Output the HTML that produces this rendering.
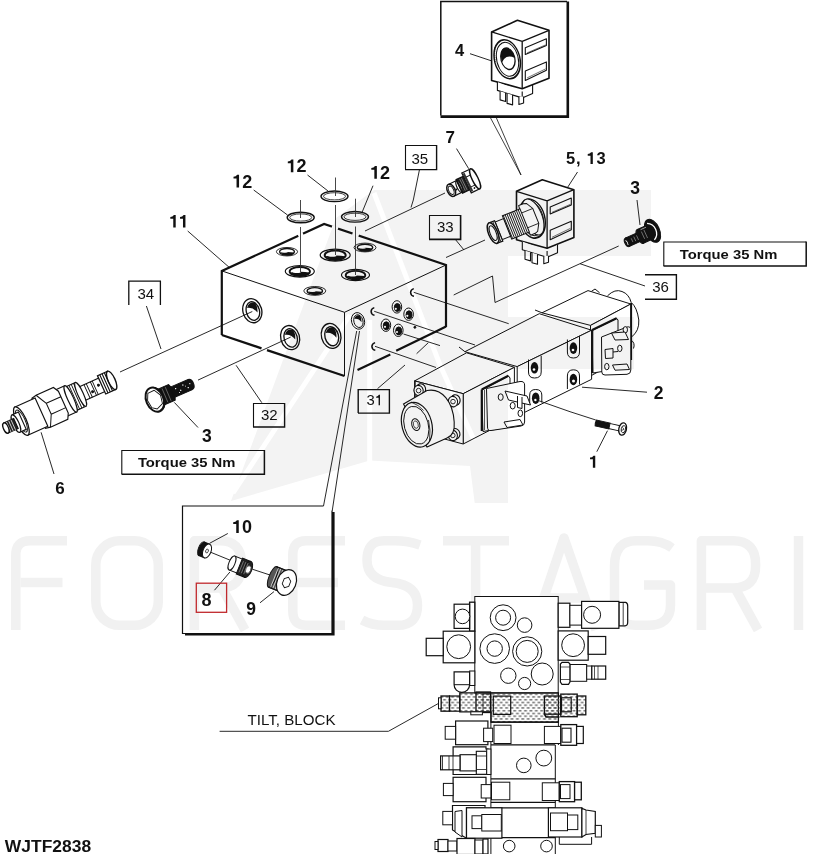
<!DOCTYPE html>
<html><head><meta charset="utf-8">
<style>
html,body{margin:0;padding:0;background:#fff;width:821px;height:854px;overflow:hidden}
svg{display:block}
.b{font-family:"Liberation Sans",sans-serif;font-weight:bold;fill:#111}
.r{font-family:"Liberation Sans",sans-serif;fill:#111}
</style></head><body>
<svg width="821" height="854" viewBox="0 0 821 854">
<g id="wm" fill="none" stroke="#f1f1f1" stroke-width="9.5" stroke-linejoin="round">
<path d="M15.8 630V555Q15.8 540.8 30 540.8H67M20.8 582.5H62.5"/>
<rect x="95.8" y="540.8" width="62.5" height="84.5" rx="24"/>
<path d="M194.4 630V540.8H220Q241.6 540.8 241.6 564V566Q241.6 588 220 588H194.4M222 588L245 630"/>
<path d="M345 540.8H306Q292.8 540.8 292.8 555V611Q292.8 625.3 306 625.3H345M292.8 582.5H338"/>
<path d="M420 545Q408 540.8 395 540.8H384Q367 540.8 367 560Q367 580 392 582.5Q417.5 585 417.5 605Q417.5 625.3 398 625.3H384Q372 625.3 362 620"/>
<path d="M443 540.8H509M475.6 540.8V630"/>
<path d="M533 630L564 538L596 630M545 598H583"/>
<path d="M672 548Q662 540.8 648 540.8H636Q614.5 540.8 614.5 566V600Q614.5 625.3 636 625.3H648Q670.5 625.3 670.5 605V585H644"/>
<path d="M701.4 630V540.8H733Q755.6 540.8 755.6 564V566Q755.6 588 733 588H701.4M735 588L758 630"/>
<path d="M798.5 536V630"/>
</g>



<defs>
<g id="th">
<ellipse cx="0" cy="0" rx="1" ry="0.4" fill="#fff" stroke="#111" stroke-width="0.08"/>
<ellipse cx="0" cy="0.01" rx="0.7" ry="0.31" fill="#fff" stroke="#111" stroke-width="0.13"/>
<path d="M-0.66 0.08Q-0.3 0.38 0.2 0.35Q0.62 0.3 0.66 0.08Q0.1 -0.02 -0.66 0.08Z" fill="#111" stroke="none"/>
<ellipse cx="-0.2" cy="0.04" rx="0.28" ry="0.07" fill="#fff" stroke="none"/>
</g>
<g id="sh"><!-- side hole unit -->
<ellipse cx="0" cy="0" rx="1" ry="1.3" transform="rotate(-15)" fill="#fff" stroke="#111" stroke-width="0.14"/>
<ellipse cx="0.05" cy="0.05" rx="0.7" ry="1.0" transform="rotate(-15)" fill="#fff" stroke="#111" stroke-width="0.14"/>
<path d="M-0.55 -0.3 Q-0.4 -0.95 0.25 -0.85 Q0.6 -0.5 0.55 0.2 Q0.1 -0.4 -0.55 -0.3Z" fill="#111" stroke="none"/>
</g>

<g id="coil" fill="none" stroke="#111" stroke-linejoin="round">
<path d="M0 0L25.8 -11.6L57.4 -1.6L57.4 46.3L30.6 56.9L0 48.5Z" fill="#fff" stroke-width="1.6"/>
<path d="M0 0L30.6 9.5L57.4 -1.6M30.6 9.5V56.9" stroke-width="1.3"/>
<path d="M33.7 15.8L54.8 6.8V13.7L33.7 22.6Z" stroke-width="1.1"/>
<path d="M33.7 39L54.8 30V38.4L33.7 48.5Z" stroke-width="1.1"/>
<path d="M35.5 21L54 13M35.5 46L54 37" stroke-width="0.6"/>
<g transform="matrix(1,0.31,0,1,0,0)">
<ellipse cx="15.6" cy="22.5" rx="13.2" ry="19" stroke-width="1.5"/>
<ellipse cx="15.9" cy="22.5" rx="11.2" ry="16.6" stroke-width="1"/>
<ellipse cx="16.3" cy="21.8" rx="7.2" ry="10.5" stroke-width="1.3"/>
<path d="M9.3 20Q9.5 11.5 16.5 11.5Q22.5 12 23 19Q19 18 15 20.5Q11.5 23.5 10.5 27Q9.2 24 9.3 20Z" fill="#111" stroke="none"/>
<path d="M3.5 14Q2.6 22 3.8 30" stroke-width="0.7" stroke-dasharray="1 1"/>
</g>
<path d="M5.8 50.2V58.5L30.6 66V59.6M30.6 66L41 61.5V53" fill="#fff" stroke-width="1.1"/>
<path d="M8.5 59.4V68L14 69.6V61M15.5 61.5V71.5L21 73V63M27.3 65V72.5L32 71V64.5" fill="#fff" stroke-width="1.1"/>
</g>

<pattern id="hatch" patternUnits="userSpaceOnUse" width="5.4" height="5.5" x="0" y="692.5">
<rect x="0.3" y="1.1" width="2.8" height="1.25" fill="#555"/>
<rect x="3" y="3.85" width="2.8" height="1.25" fill="#555"/>
<rect x="-2.4" y="3.85" width="2.8" height="1.25" fill="#555"/>
</pattern>
</defs>
<!-- main block -->
<g id="block" fill="none" stroke="#111">
<path d="M221.8 270.9L324.1 223.9L446 265L344.5 312.3Z" fill="#fff" stroke="none"/>
<path d="M221.8 270.9L344.5 312.3L344.5 376L221.8 335Z" fill="#fff" stroke="none"/>
<path d="M344.5 312.3L446 265L446 327.5L344.5 376Z" fill="#fff" stroke="none"/>
<path d="M221.8 335L221.8 270.9L324.1 223.9L446 265L446 327" stroke-width="2.2"/>
<path d="M221.8 335L261.5 348.3M267 350.1L344.5 376" stroke-width="2.3"/>
<path d="M357.5 370L390.3 354.4M396.2 350.7L438.5 330.3L446 326.6" stroke-width="2.2"/>
<path d="M221.8 270.9L344.5 312.3L446 265M344.5 312.3V376" stroke-width="1"/>
<use href="#th" transform="translate(287,251.7) scale(10.6)"/>
<use href="#th" transform="translate(335.2,255.1) scale(15)"/>
<use href="#th" transform="translate(299.8,271.3) scale(14.5)"/>
<use href="#th" transform="translate(314.8,290.9) scale(11)"/>
<use href="#th" transform="translate(355.5,275) scale(14)"/>
<use href="#th" transform="translate(365,247.5) scale(11)"/>
<use href="#sh" transform="translate(252.3,310.7) scale(9.4)"/>
<use href="#sh" transform="translate(290.1,337.6) scale(9.4)"/>
<use href="#sh" transform="translate(331.1,335.9) scale(9.7)"/>
<use href="#sh" transform="translate(358,320.9) scale(6.5)"/>
</g>


<!-- leader & assembly lines -->
<g fill="none" stroke="#111" stroke-width="0.9">
<path d="M470 53.7L491 60.7"/>
<path d="M489.5 116L521 175M496 117L521 175" stroke-width="0.8"/>
<path d="M456.5 148.6L468.7 168.7"/>
<path d="M419.4 170L413.3 200L411 207.5"/>
<path d="M445 193L365 231"/>
<path d="M577.5 172L567.5 187.5"/>
<path d="M637 200L640 225"/>
<path d="M455 239L464 250"/>
<path d="M446 257.5L485 240"/>
<path d="M618.7 246L495 302.5L492.5 276L453.7 295"/>
<path d="M645 286L580 263.7"/>
<path d="M253.7 190L287.5 215"/>
<path d="M307.5 175L328 191"/>
<path d="M373 185.7L362 212.5"/>
<path d="M187.7 231L229.6 267.7"/>
<path d="M146.4 306L161 349"/>
<path d="M120 372L252.3 311.5"/>
<path d="M198 380.1L290.7 337.1"/>
<path d="M174.3 402.4L198 427.5"/>
<path d="M41.1 432.3L54 474"/>
<path d="M236.1 365.3L261.8 402.7"/>
<path d="M356.7 331L323.5 506M359.5 331L332.2 511"/>
<path d="M582 387.2L647 392.2"/>
<path d="M607.5 430.7L596.8 451.7"/>
<path d="M227.8 533.5L209.6 543.3"/>
<path d="M229.9 572L214.5 590.2"/>
<path d="M274 591.6L260 602.8"/>
<path d="M219.6 731.3H388.4L438 703.7"/>
<path d="M405 365L377.5 388.7"/>
</g>
<!-- O-rings -->
<g fill="none" stroke="#111">
<ellipse cx="300.7" cy="217.5" rx="13.5" ry="5.3" stroke-width="1.4"/>
<ellipse cx="300.7" cy="217.5" rx="11" ry="3.6" stroke-width="0.8"/>
<ellipse cx="334.5" cy="196.3" rx="13.5" ry="5.3" stroke-width="1.4"/>
<ellipse cx="334.5" cy="196.3" rx="11" ry="3.6" stroke-width="0.8"/>
<ellipse cx="355" cy="216.8" rx="13.5" ry="5.3" stroke-width="1.4"/>
<ellipse cx="355" cy="216.8" rx="11" ry="3.6" stroke-width="0.8"/>
<path d="M298.3 235.8L303 233.6M332 226.6L338 228.6M352.5 233.5L358.7 235.6" stroke="#fff" stroke-width="3.6"/>
<path d="M300.5 200V218M300.5 227V272.5M335.5 177.5V196M335.5 205V255M355.5 198.7V217M355.5 226.5V275" stroke-width="0.9" stroke="#333"/>
</g>
<!-- pins on right face -->
<g fill="none" stroke="#111" stroke-width="0.9">
<path d="M413.7 292.3L508.7 323.7"/>
<path d="M374.2 311.3L475 345"/>
<path d="M375 346.3L436 367.5"/>
<path d="M403.5 334L440 345.6"/>
<path d="M416.6 353.7L428.3 342.7"/>
<path d="M413.8 288.6Q410.6 289.5 410.6 292.5Q410.8 295.8 414 296.3M374.3 307.6Q371.1 308.5 371.1 311.5Q371.3 314.8 374.5 315.3M375.1 342.6Q371.9 343.5 371.9 346.5Q372.1 349.8 375.3 350.3" stroke-width="1.5"/>
</g>
<g fill="#fff" stroke="#111" stroke-width="1">
<ellipse cx="396.9" cy="306.9" rx="4.8" ry="6.2"/>
<ellipse cx="397.3" cy="307.5" rx="3" ry="4" fill="#111"/>
<ellipse cx="408.6" cy="314.2" rx="4.8" ry="6.2"/>
<ellipse cx="409" cy="314.8" rx="3" ry="4" fill="#111"/>
<ellipse cx="385.9" cy="325.2" rx="4.8" ry="6.2"/>
<ellipse cx="386.3" cy="325.8" rx="3" ry="4" fill="#111"/>
<ellipse cx="398.3" cy="330.3" rx="4.8" ry="6.2"/>
<ellipse cx="398.7" cy="330.9" rx="3" ry="4" fill="#111"/>
<circle cx="414.9" cy="327.3" r="1" fill="#111"/>
<g fill="#fff" stroke="none"><circle cx="395.8" cy="308.8" r="1.1"/><circle cx="407.3" cy="315.8" r="1.1"/><circle cx="385" cy="326.8" r="1.1"/><circle cx="397" cy="332" r="1.1"/></g>
</g>

<use href="#coil" transform="translate(491.6,31.9)"/>

<!-- solenoid 5,13 -->
<use href="#coil" transform="translate(516.5,191.3)"/>
<g transform="translate(533,217) rotate(-22)" fill="#fff" stroke="#111" stroke-width="1">
<ellipse cx="0" cy="0" rx="9" ry="19"/>
<path d="M-1 -15L-4 -16H-9L-10 -8V8L-9 16H-4L-1 15L3 8V-8Z"/>
<path d="M-10 -8H3M-10 8H3" stroke-width="0.8"/>
<path d="M-9 -12.5H-28V12.5H-9Z"/>
<path d="M-11 -12.5V12.5M-13 -12.5V12.5M-15 -12.5V12.5M-17 -12.5V12.5M-19 -12.5V12.5M-21 -12.5V12.5M-23 -12.5V12.5M-25 -12.5V12.5M-27 -12.5V12.5" stroke-width="0.85"/>
<path d="M-28 -9.5H-37V9.5H-28Z"/>
<path d="M-37 -11H-43V11H-37Z" stroke-width="1.2"/>
<path d="M-39 -11V11M-41 -11V11" stroke-width="0.8"/>
<ellipse cx="-43" cy="0" rx="4.6" ry="11" stroke-width="1.5"/>
<ellipse cx="-43" cy="0" rx="3" ry="7.8" stroke-width="1"/>
</g>


<!-- part 7 -->
<g transform="translate(451.2,190.3) rotate(-25.6)" fill="#fff" stroke="#111" stroke-width="1.2">
<path d="M0 -6.5H9V6.5H0Z"/>
<path d="M9 -7.5H17V7.5H9Z" fill="#222"/>
<path d="M17 -11H26.5V11H17Z"/>
<path d="M17 -5.5H26.5M17 5.5H26.5" stroke-width="0.9"/>
<path d="M18.5 -10V10" stroke-width="2.2" stroke="#333"/>
<path d="M10.5 -6V6M12.5 -6.5V6.5M14.5 -6.5V6.5" stroke="#bbb" stroke-width="0.5"/>
<ellipse cx="26.5" cy="0" rx="3" ry="11" stroke-width="1.4"/>
<ellipse cx="9" cy="0" rx="2.5" ry="6.5" fill="none"/>
<ellipse cx="0" cy="0" rx="3.8" ry="6.5" stroke-width="1.5"/>
<ellipse cx="0" cy="0" rx="2.4" ry="4.5" stroke-width="0.9"/>
<circle cx="5" cy="1.5" r="1" fill="#111" stroke="none"/>
<circle cx="22" cy="8" r="0.9" fill="#111" stroke="none"/>
</g>
<!-- part 3 top right -->
<g transform="translate(627.5,242.2) rotate(-24.4)" stroke="#111" fill="#111">
<path d="M0 -4.6H16V4.6H0Z"/>
<ellipse cx="0" cy="0" rx="2.8" ry="4.6"/>
<path d="M14 -7.5H25V7.5H14Z"/>
<ellipse cx="14" cy="0" rx="3" ry="7.5"/>
<ellipse cx="27.5" cy="0" rx="7" ry="12.2" stroke-width="1"/>
<path d="M25.5 -9Q31 -6 31 0Q31 6 25.5 9" fill="none" stroke="#fff" stroke-width="1.3"/>
<path d="M-1 -2.5Q0.5 0 -0.6 2.8" fill="none" stroke="#fff" stroke-width="0.9"/>
<path d="M5 -2V2M8 -2.5V2.5M11 -2.5V2.5M17 -4V4M20 -4.5V4.5" fill="none" stroke="#aaa" stroke-width="0.6"/>
<path d="M17 -6L23 -6" fill="none" stroke="#bbb" stroke-width="0.8"/>
</g>



<!-- valve part 2 -->
<g id="valve" fill="#fff" stroke="#111" stroke-width="1" stroke-linejoin="round">
<!-- right cap arc -->
<path d="M607.5 295.8Q615 288.5 622 291.5Q629 294 631.2 302.5Q637 307 638.8 320Q639.5 331 631.5 337"/>
<path d="M631 340Q635.5 343 633.5 348.5" fill="none"/>
<path d="M591.5 291.3L595 289L599.6 292.8" fill="none"/>

<!-- right solenoid -->
<path d="M542 312.8L588 290.6L630.8 304L590.5 325.4Z"/>
<path d="M590.5 325.4L630.8 304V354L590.5 376Z"/>
<path d="M631.2 303V360" fill="none" stroke-width="1.8"/>
<!-- center block -->
<path d="M464.9 351.7L539.3 313.7L591.6 330.2L517.2 366.6Z"/>
<path d="M517.2 366.6L591.6 330.2V379.3L517.2 416Z"/>
<!-- left solenoid -->
<path d="M414.6 380.9L466.6 352.8L514.4 367.3L463.2 393.7Z"/>
<path d="M463.2 393.7L514.4 367.3V417.6L463.2 444Z"/>
<path d="M414.6 380.9L463.2 393.7V444L414.6 431Z"/>
<path d="M459 347L464.9 351.7M535 310L542 312.8" fill="none"/>
</g>
<!-- center block screw holes -->
<g fill="none" stroke="#111" stroke-width="1">
<path d="M567.4 339.5V352Q567.4 358 573.4 358Q579.5 358 579.5 352V336.2"/>
<path d="M528.5 359.5V372Q528.5 378 534.6 378Q541.2 378 541.2 372V355.8"/>
<path d="M567.4 389V376Q567.4 369.8 573.4 369.8Q579.5 369.8 579.5 376V384.5"/>
<path d="M529.7 404V395Q529.7 389.5 535.7 389.5Q541.8 389.5 541.8 395V402.5"/>
<g fill="#111" stroke="none">
<ellipse cx="573.4" cy="348.1" rx="3.8" ry="5.8"/>
<ellipse cx="534.5" cy="367.8" rx="3.8" ry="5.8"/>
<ellipse cx="573.4" cy="379.5" rx="3.8" ry="5.8"/>
<ellipse cx="535.7" cy="398.2" rx="3.8" ry="5.8"/>
</g>
<g fill="#fff" stroke="none">
<circle cx="573" cy="350" r="1.3"/><circle cx="534" cy="369.5" r="1.3"/><circle cx="573.5" cy="381" r="1.5"/><circle cx="535.5" cy="400" r="1.3"/>
</g>
</g>
<!-- left end cap -->
<g fill="#fff" stroke="#111" stroke-width="1.1">
<path d="M415.1 380.5V386M415.1 395V404" fill="none"/>
<g><ellipse cx="421" cy="389" rx="4.6" ry="5.3" transform="rotate(-15 421 389)"/><ellipse cx="418.6" cy="390.6" rx="4.6" ry="5.3" transform="rotate(-15 418.6 390.6)"/><circle cx="418.6" cy="390.6" r="2.3" fill="none" stroke-width="0.9"/></g>
<g><ellipse cx="455.5" cy="400" rx="4.6" ry="5.3" transform="rotate(-15 455.5 400)"/><ellipse cx="453" cy="401.6" rx="4.6" ry="5.3" transform="rotate(-15 453 401.6)"/><circle cx="453" cy="401.6" r="2.3" fill="none" stroke-width="0.9"/></g>
<g><ellipse cx="455.3" cy="433.8" rx="4.6" ry="5.3" transform="rotate(-15 455.3 433.8)"/><ellipse cx="452.8" cy="435.4" rx="4.6" ry="5.3" transform="rotate(-15 452.8 435.4)"/><circle cx="452.8" cy="435.4" r="2.3" fill="none" stroke-width="0.9"/></g>
<path d="M403.5 404L427 390.5C442 387.5 453 402 454.2 422C455 432 451 436.5 447 438L427 447Z"/>
<ellipse cx="416.9" cy="424.7" rx="14.9" ry="22.8" transform="rotate(-15 416.9 424.7)" stroke-width="1.2"/>
<ellipse cx="416.3" cy="425.2" rx="12" ry="19.3" transform="rotate(-15 416.3 425.2)" fill="none" stroke-width="0.9"/>
<ellipse cx="415.8" cy="424.6" rx="4" ry="6" transform="rotate(-15 415.8 424.6)" fill="none" stroke-width="1"/>
<ellipse cx="415.8" cy="424.6" rx="2.4" ry="3.8" transform="rotate(-15 415.8 424.6)" fill="none" stroke-width="0.7"/>
<path d="M411 402Q419 405 423.5 410.5M428.5 420Q431 430 429.5 441" fill="none" stroke-width="0.8"/>
</g>
<!-- left connector -->
<g fill="#fff" stroke="#111" stroke-width="1" stroke-linejoin="round">
<path d="M481.5 390L508.5 376L510 378V427L483 431.5Z"/>
<path d="M481.8 389.5V431M481.8 389.5L508.4 375.8" fill="none" stroke-width="2.2"/>
<path d="M486.5 388.5L520 381.5Q524.6 381 524.6 385V422Q524.6 425.5 521 426L491 430.5Q487.5 431 487.5 427Z"/>
<path d="M484.5 390V430" fill="none" stroke-width="0.7"/>
<ellipse cx="500.7" cy="397.1" rx="2.5" ry="3.3"/>
<ellipse cx="512.7" cy="405.7" rx="2.5" ry="3.3"/>
<ellipse cx="520.3" cy="413.3" rx="2.3" ry="3.3"/>
<path d="M505 391L527 396L530.5 405L508.5 400Z"/>
<path d="M517.5 396V407.5L522 408.5V397" fill="#fff"/>
<path d="M504 422L520 419.5L523 425L507 427.5Z"/>
</g>
<!-- right connector -->
<g fill="#fff" stroke="#111" stroke-width="1" stroke-linejoin="round">
<path d="M592 330.5L616.6 318.3L618 320V369L592.8 373Z"/>
<path d="M592.2 330V373M592.2 330L616.6 318.3" fill="none" stroke-width="2.2"/>
<path d="M601.5 337L627 327Q630.8 326 630.8 330V370Q630.8 374 627 374.3L605 375Q601.8 375 601.8 372Z"/>
<ellipse cx="625.3" cy="329.8" rx="2.2" ry="3.2"/>
<ellipse cx="619.8" cy="348.4" rx="2.2" ry="3.2"/>
<ellipse cx="606.8" cy="366.6" rx="2.2" ry="3.2"/>
<path d="M611.5 333L625 332L628.5 339.5L615 340Z"/>
<path d="M605 349.5L613 348.5V358L605.5 358.5Z"/>
<path d="M613 352L618 351.5" fill="none"/>
<path d="M612.5 365L627 364L629.5 369.5L615 370.2Z"/>
</g>
<!-- bolt 1 -->
<g transform="translate(595.8,423) rotate(12.6)" stroke="#111" stroke-width="1">
<path d="M0 -3Q-0.8 0 0 3H14V-3Z" fill="#111"/>
<path d="M14 -2.6H25V2.6H14Z" fill="#fff"/>
<ellipse cx="27.5" cy="0" rx="3.8" ry="6.3" fill="#fff" stroke-width="1.3"/>
<ellipse cx="28.3" cy="0" rx="2.2" ry="3.6" fill="none" stroke-width="0.9"/>
<path d="M27 -1.5L29 0L27 1.5" fill="none" stroke-width="0.7"/>
</g>
<path d="M570 411.7L595.8 420" fill="none" stroke="#111" stroke-width="0.9"/>
<path d="M536.2 399.8L570 411.7" fill="none" stroke="#111" stroke-width="0.9"/>


<!-- cartridge 6 -->
<g transform="translate(5,428.5) rotate(-24.3)" fill="#fff" stroke="#111" stroke-width="1.15">
<path d="M82 -7.5H110V7.5H82Z"/>
<path d="M106 -10H117V10H106Z" stroke-width="1.3"/>
<ellipse cx="117" cy="0" rx="3.5" ry="10" stroke-width="1.4"/>
<path d="M108.5 -10V10M111 -10V10M113.5 -10V10" stroke-width="1.1"/>
<path d="M90 -7.5V7.5M92.5 -7.5V7.5M97 -7.5V7.5M99 -7.5V7.5" stroke-width="0.9"/>
<circle cx="95" cy="2.5" r="0.9" fill="#111"/><circle cx="103" cy="-1" r="0.9" fill="#111"/>
<path d="M71 -13H83V13H71Z"/>
<path d="M73.5 -13V13M76 -13V13M78.5 -13V13M81 -13V13" stroke-width="0.9"/>
<ellipse cx="83" cy="0" rx="2.8" ry="13"/>
<path d="M61 -14.5H72V14.5H61Z"/>
<ellipse cx="72" cy="0" rx="3" ry="14.5"/>
<path d="M37 -16.5L42 -17.5H61L64 -12V12L61 17.5H42L37 16.5Z"/>
<path d="M42 -17.5L48 -6V6L42 17.5M48 -6H64M48 6H64" stroke-width="1"/>
<path d="M18 -15.5H40V15.5H18Z"/>
<ellipse cx="18" cy="0" rx="5" ry="15.5" stroke-width="1.3"/>
<ellipse cx="18" cy="0" rx="3.8" ry="12" stroke-width="0.9"/>
<path d="M12 -9.5H19V9.5H12Z"/>
<ellipse cx="12" cy="0" rx="3" ry="9.5"/>
<path d="M1 -5.5H12V5.5H1Z" fill="#222"/>
<path d="M4 -5.5V5.5M6.5 -5.5V5.5M9 -5.5V5.5" stroke="#fff" stroke-width="0.7"/>
<ellipse cx="1" cy="0" rx="2.5" ry="5.5" stroke-width="1.3"/>
</g>
<!-- bolt 3 left -->
<g transform="translate(155.3,399.5) rotate(-23.1)" stroke="#111" fill="#111">
<path d="M2 -8.5H18L19 -6V6L18 8.5H2Z"/>
<path d="M18 -5.5H38Q41.5 -5 41.5 0Q41.5 5 38 5.5H18Z"/>
<g fill="#fff" stroke="none">
<circle cx="23" cy="-2" r="0.7"/><circle cx="27" cy="1.5" r="0.7"/><circle cx="31" cy="-2.5" r="0.7"/><circle cx="35" cy="2" r="0.7"/><circle cx="38" cy="-1" r="0.6"/><circle cx="25" cy="3" r="0.5"/><circle cx="33" cy="-0.5" r="0.5"/>
</g>
<path d="M7 -7V7M10.5 -7.5V7.5M14 -7.5V7.5" stroke="#888" stroke-width="0.6" fill="none"/>
<ellipse cx="1" cy="0" rx="8" ry="12.3" fill="#111"/>
<ellipse cx="-0.5" cy="0" rx="8.6" ry="12.6" fill="#fff" stroke-width="2"/>
<path d="M-4.5 -8.5L2.5 -9L6.5 -2L5 6.5L-2 9.5L-6.5 6L-7.5 -2Z" fill="none" stroke-width="0.9"/>
</g>



<!-- inset parts -->
<g stroke="#111" stroke-width="1">
<path d="M211 552.4L229.9 560.1M252.3 569.2L270 575" fill="none" stroke-width="0.9"/>
<g transform="translate(207,551) rotate(22)">
<path d="M-6 -7.3H0V7.3H-6Z" fill="#111"/>
<ellipse cx="-6" cy="0" rx="3" ry="7.3" fill="#111"/>
<ellipse cx="0" cy="0" rx="4" ry="7.3" fill="#fff"/>
<ellipse cx="0" cy="0" rx="1.3" ry="2" fill="none" stroke-width="0.7"/>
</g>
<g transform="translate(232,563) rotate(22)">
<path d="M0 -7.5H10V7.5H0Z" fill="#fff"/>
<ellipse cx="0" cy="0" rx="3" ry="7.5" fill="#fff"/>
<path d="M8 -8.5H17V8.5H8Z" fill="#222"/>
<ellipse cx="17" cy="0" rx="4" ry="8.5" fill="#222"/>
<ellipse cx="17.5" cy="0" rx="2.5" ry="4" fill="#fff" stroke="#444" stroke-width="0.8"/>
<path d="M10 -6V6M12.5 -6V6M15 -6V6" stroke="#888" stroke-width="0.7"/>
</g>
<g transform="translate(286.5,582.5) rotate(22)">
<path d="M-15 -11H-3V11H-15Z" fill="#555"/>
<ellipse cx="-15" cy="0" rx="3.5" ry="11" fill="#555"/>
<path d="M-13 -11V11M-10.5 -11V11M-8 -11V11M-5.5 -11V11" stroke="#ddd" stroke-width="0.8"/>
<path d="M-15 -11H-3V11H-15" fill="none" stroke-width="1.2"/>
<ellipse cx="0" cy="0" rx="9.5" ry="13.3" fill="#fff" stroke-width="1.2"/>
<path d="M0 -5.5L3.5 -2.7V2.7L0 5.5L-3.5 2.7V-2.7Z" fill="#fff" stroke-width="0.9"/>
</g>
</g>


<!-- tilt block -->
<g fill="#fff" stroke="#111" stroke-width="1">
<!-- top body -->
<rect x="474.8" y="596.5" width="83.4" height="96.5"/>
<circle cx="503.1" cy="617.7" r="12.9"/><circle cx="503.1" cy="617.7" r="7.5"/>
<circle cx="524.6" cy="625.1" r="7.3"/>
<circle cx="494.7" cy="648.6" r="14.8"/><circle cx="494.7" cy="648.6" r="7.7"/>
<circle cx="527.2" cy="651.4" r="14.6"/><circle cx="527.2" cy="651.4" r="11"/>
<circle cx="508.3" cy="675.7" r="7.7"/>
<circle cx="524.6" cy="683.5" r="6.1"/>
<circle cx="542.2" cy="674" r="11"/>
<!-- left top -->
<rect x="469.6" y="602.2" width="5.2" height="29" stroke-width="1.3"/>
<rect x="454.1" y="604.2" width="15.5" height="24.2" stroke-width="1.2"/>
<circle cx="462.5" cy="616.4" r="7.3"/>
<rect x="443.2" y="631.2" width="31.6" height="31.6" stroke-width="1.2"/>
<circle cx="458.7" cy="646.7" r="11.9"/>
<rect x="426.2" y="638.3" width="17" height="17.4" stroke-width="1.2"/>
<rect x="469.6" y="671" width="5.2" height="14.5"/>
<path d="M454.1 684.7V671.8H469.6V684.7A7.75 7.75 0 0 1 454.1 684.7Z" stroke-width="1.2"/>
<path d="M454.1 684.7H469.6"/>
<!-- right top -->
<rect x="558.2" y="603.2" width="11.7" height="24.1" stroke-width="1.2"/>
<rect x="569.9" y="605.3" width="11.7" height="19.8"/>
<path d="M618.9 602.4H625.7Q627.7 603 627.7 606V622Q627.7 625.8 625 625.8H618.9Z" stroke-width="1.2"/>
<path d="M623.2 603V625" stroke-width="0.8"/>
<rect x="581.6" y="601.4" width="37.3" height="26.9" stroke-width="1.2"/>
<circle cx="592.1" cy="614.8" r="8.5"/>
<rect x="558.2" y="630.9" width="30" height="29.3" stroke-width="1.2"/>
<circle cx="573.1" cy="645.2" r="11.4"/>
<rect x="588.2" y="636.5" width="17.5" height="17.8" stroke-width="1.2"/>
<rect x="569.9" y="664.5" width="16.8" height="16.8"/>
<rect x="586.7" y="666" width="5.1" height="13.2"/>
<rect x="591.8" y="666" width="13.9" height="13.2" stroke-width="1.2"/>
<path d="M594.5 666V679.2M598 666V679.2" stroke-width="0.7"/>
<path d="M562 662.3H568.5L569.9 664V682L568.5 684.3H562L560.4 682V664Z" stroke-width="1.2"/>
<path d="M560.4 667H569.9M560.4 679.5H569.9" stroke-width="0.7"/>
</g>
<!-- hatched layer -->
<g stroke="#111" stroke-width="1">
<path d="M459.8 692.8H558.4V722.2H491V711.8H459.8Z" fill="url(#hatch)" stroke-width="1.3"/>
<rect x="476" y="692" width="14.5" height="20.5" fill="url(#hatch)" stroke-width="1.3"/>
<rect x="483" y="694" width="8" height="18" fill="none" stroke-width="0.8"/>
<rect x="493.3" y="696.1" width="17.4" height="18.3" fill="none" stroke-width="1.2"/>
<rect x="470.8" y="711.8" width="11.6" height="3" fill="#fff"/>
<rect x="544.4" y="696" width="16.4" height="18.2" fill="url(#hatch)" stroke-width="1.3"/>
<rect x="560.8" y="694.1" width="16.4" height="22.6" fill="url(#hatch)" stroke-width="1.3"/>
<rect x="561.5" y="697.8" width="9.7" height="14" fill="none" stroke-width="1.2"/>
<rect x="577.2" y="696" width="8.6" height="18.8" fill="url(#hatch)" stroke-width="1.3"/>
<rect x="449.5" y="696" width="10.3" height="15.2" fill="url(#hatch)" stroke-width="1.2"/>
<rect x="441" y="696" width="8.5" height="15.2" fill="url(#hatch)" stroke-width="1.3"/>
<rect x="438.5" y="697.8" width="2.5" height="11" fill="#fff"/>
<path d="M544.4 714.2L546 717H559.5" fill="none" stroke-width="1.6"/>
</g>
<!-- lower layers -->
<g fill="#fff" stroke="#111" stroke-width="1">
<path d="M490.9 712V854M555.3 745V854M558.4 722V745" fill="none"/>
<path d="M490.9 722.2H558.4M490.9 744.9H555.3M490.9 778.8H555.3M490.9 802.3H555.3M490.9 807.8H555.3M490.9 837.6H555.3" fill="none" stroke-width="1.2"/>
<!-- layer 2 -->
<rect x="455.6" y="721" width="32.3" height="23.7" stroke-width="1.2"/>
<rect x="445.2" y="726.4" width="10.4" height="12.8"/>
<rect x="483.6" y="728.2" width="9.1" height="13.4"/>
<rect x="494" y="725.2" width="17" height="18.3"/>
<rect x="544.4" y="726.4" width="16.4" height="17.1"/>
<rect x="560.8" y="724.6" width="15.8" height="20.7" stroke-width="1.3"/>
<rect x="562" y="728.2" width="9" height="14" fill="none" stroke-width="1.1"/>
<rect x="576.6" y="726.4" width="6.7" height="17.1" stroke-width="1.2"/>
<!-- layer 3 -->
<circle cx="523.8" cy="765.4" r="7.3"/>
<circle cx="543.8" cy="758.1" r="7.9"/>
<path d="M453.1 746.8H486V749H488V774.5H453.1Z" stroke-width="1.2"/>
<rect x="476.3" y="751.3" width="10.4" height="23" stroke-width="1.1"/>
<path d="M476.3 756H486.7M476.3 769.5H486.7" stroke-width="0.8"/>
<rect x="460" y="754.7" width="16.3" height="16.2" stroke-width="1.1"/>
<rect x="440.6" y="755.9" width="19.4" height="13.9" stroke-width="1.2"/>
<path d="M442.5 756V770M449 756V770M453 756V770" stroke-width="0.8"/>
<rect x="486.7" y="749" width="4.2" height="25.5"/>
<!-- layer 4 -->
<rect x="453.1" y="777.3" width="32.9" height="24.4" stroke-width="1.2"/>
<rect x="443.4" y="783.4" width="9.7" height="12.2"/>
<rect x="481.2" y="784.6" width="9.7" height="13.4"/>
<rect x="491.5" y="782.2" width="18.3" height="17.6"/>
<rect x="542.3" y="782.8" width="17" height="17.7"/>
<rect x="559.3" y="781.6" width="15.3" height="20.1" stroke-width="1.3"/>
<rect x="560.5" y="784.6" width="9.5" height="14" fill="none"/>
<rect x="574.6" y="782.2" width="6.7" height="17.6" stroke-width="1.3"/>
<!-- layer 5 -->
<path d="M452.5 805.5H485V808L466.5 807.8V838.2L452.5 830Z" stroke-width="1.2"/>
<rect x="442.8" y="811.4" width="9.7" height="13.4"/>
<path d="M455 811.5L462 810.5V837L455 832Z"/>
<rect x="466.5" y="807.8" width="35.4" height="30.4" stroke-width="1.2"/>
<rect x="472" y="815.8" width="9.8" height="12.8"/>
<rect x="481.8" y="814.5" width="19.5" height="16.5"/>
<rect x="548.4" y="807.8" width="33.5" height="29.2" stroke-width="1.2"/>
<rect x="550.5" y="813" width="17" height="17.7"/>
<rect x="567.5" y="815" width="10.3" height="14.6"/>
<path d="M581.9 808.4L586 810L595.3 811.5V833.3L586 834.5L581.9 837Z" stroke-width="1.2"/>
<path d="M586 810V834.5" stroke-width="0.8"/>
<rect x="595.3" y="825.4" width="6.1" height="11.6"/>
<path d="M559.3 837V844.3H591.6V837" fill="none"/>
<!-- layer 6 -->
<circle cx="509.2" cy="846.1" r="5.8"/>
<circle cx="546.5" cy="846.1" r="5.8"/>
<rect x="438" y="839.5" width="10" height="12" stroke-width="1.2"/>
<rect x="435" y="841.5" width="3" height="8"/>
<rect x="448" y="841" width="9" height="10"/>
<rect x="457" y="838.5" width="18" height="16" stroke-width="1.2"/>
<rect x="475" y="840" width="8" height="14"/>
<rect x="483" y="839" width="5" height="15" stroke-width="1.2"/>
</g>

<!-- labels -->
<g fill="#111">
<text class="b" x="454.95" y="56.40" font-size="16.5">4</text>
<text class="b" x="445.47" y="143.40" font-size="17">7</text>
<text class="b" x="565.99" y="163.90" font-size="16.5">5</text>
<text class="b" x="575.92" y="163.90" font-size="16.5">,</text>
<path d="M590.51 163.90H592.82V152.19H591.12Q590.05 154.00 587.73 154.00V155.65H590.51Z"/>
<text class="b" x="596.51" y="163.90" font-size="16.5">3</text>
<text class="b" x="630.30" y="193.90" font-size="17.5">3</text>
<path d="M236.54 187.60H239.06V174.82H237.21Q236.04 176.80 233.50 176.80V178.60H236.54Z"/>
<text class="b" x="242.27" y="187.60" font-size="18">2</text>
<path d="M290.84 172.20H293.36V159.42H291.51Q290.34 161.40 287.80 161.40V163.20H290.84Z"/>
<text class="b" x="296.57" y="172.20" font-size="18">2</text>
<path d="M374.34 178.70H376.86V165.92H375.01Q373.84 167.90 371.30 167.90V169.70H374.34Z"/>
<text class="b" x="380.07" y="178.70" font-size="18">2</text>
<path d="M173.26 227.40H175.71V214.97H173.91Q172.77 216.90 170.30 216.90V218.65H173.26Z"/>
<path d="M182.99 227.40H185.44V214.97H183.64Q182.50 216.90 180.03 216.90V218.65H182.99Z"/>
<text class="b" x="653.79" y="399.40" font-size="17.5">2</text>
<path d="M592.87 467.70H595.25V455.63H593.50Q592.40 457.50 590.00 457.50V459.20H592.87Z"/>
<text class="b" x="202.00" y="442.40" font-size="17.5">3</text>
<text class="b" x="55.28" y="494.10" font-size="17">6</text>
<path d="M236.24 533.00H238.76V520.22H236.91Q235.74 522.20 233.20 522.20V524.00H236.24Z"/>
<text class="b" x="241.97" y="533.00" font-size="18">0</text>
<text class="b" x="201.53" y="605.60" font-size="18">8</text>
<text class="b" x="246.29" y="615.40" font-size="17.5">9</text>
<text class="r" x="411.53" y="163.80" font-size="15">3</text>
<text class="r" x="419.87" y="163.80" font-size="15">5</text>
<text class="r" x="436.93" y="232.20" font-size="15">3</text>
<text class="r" x="445.27" y="232.20" font-size="15">3</text>
<text class="r" x="652.13" y="292.20" font-size="15">3</text>
<text class="r" x="660.47" y="292.20" font-size="15">6</text>
<text class="r" x="137.43" y="299.20" font-size="15">3</text>
<text class="r" x="145.77" y="299.20" font-size="15">4</text>
<text class="r" x="260.93" y="420.40" font-size="15">3</text>
<text class="r" x="269.27" y="420.40" font-size="15">2</text>
<text class="r" x="366.44" y="405.20" font-size="14.8">3</text>
<path d="M378.59 405.20H379.98V394.80H378.96Q378.07 396.32 376.16 396.69V397.80H378.59Z"/>
<text class="b" x="4.88" y="852.2" font-size="16.7" textLength="86.2" lengthAdjust="spacingAndGlyphs">WJTF2838</text>
</g>
<g class="b" font-size="13.3">
<text x="679.8" y="259.2" textLength="97.5" lengthAdjust="spacingAndGlyphs">Torque 35 Nm</text>
<text x="137.9" y="466.8" textLength="97.5" lengthAdjust="spacingAndGlyphs">Torque 35 Nm</text>
</g>
<text class="r" font-size="15" x="247.5" y="725.2" textLength="88" lengthAdjust="spacingAndGlyphs">TILT, BLOCK</text>

<!-- boxes -->
<g fill="none" stroke="#111" stroke-width="1.1">
<path d="M405.5 169.5V145.5H436.5"/><path d="M436.6 145V169.6H405" stroke-width="1.4"/>
<path d="M429.5 239V215.5H460.5"/><path d="M460.6 215V239.4H429" stroke-width="1.6"/>
<path d="M645 274.8H676.4V299.2H645" stroke-width="1.4"/>
<path d="M128.8 305V281.2H160.4V305" stroke-width="1.3"/>
<path d="M253.5 427V403.5H284.5"/><path d="M284.6 403V427H253" stroke-width="1.4"/>
<path d="M358.2 413V389.6H389.4" stroke-width="1.4"/><path d="M389.4 389V413.1H358" stroke-width="1.4"/>
<path d="M663.8 266V242H806"/><path d="M806.2 241.5V266.1H663.5" stroke-width="1.5"/>
<path d="M121.8 474V450.5H264.3"/><path d="M264.4 450V474.2H121.5" stroke-width="1.5"/>
<path d="M440.8 115.5V1.5H567" stroke-width="1.5"/>
<path d="M567.8 1.5V116.6H440.5" stroke-width="2.6"/>
<path d="M332 510.8V633.5H182.5V506H323.5" stroke-width="1.2"/>
<path d="M333.3 512V634.3H185" stroke-width="2.6"/>
</g>
<rect x="196.3" y="583.2" width="30.3" height="29.1" fill="none" stroke="#c0282d" stroke-width="1.3"/>
<g style="mix-blend-mode:multiply">
<g id="logo" fill="#f3f3f3" stroke="none">
<path d="M231 501L283 360L336 218L374 190H651V256H508V317H634V369H508V503H474.7L470 466L369.7 460.6Z"/>
<g stroke="#fff" stroke-width="5" fill="none">
<path d="M233 493L350 315"/>
<path d="M374 193L440 365L474 440"/>
<path d="M369.7 320V462"/>
</g>
</g>

</g>
</svg>
</body></html>
